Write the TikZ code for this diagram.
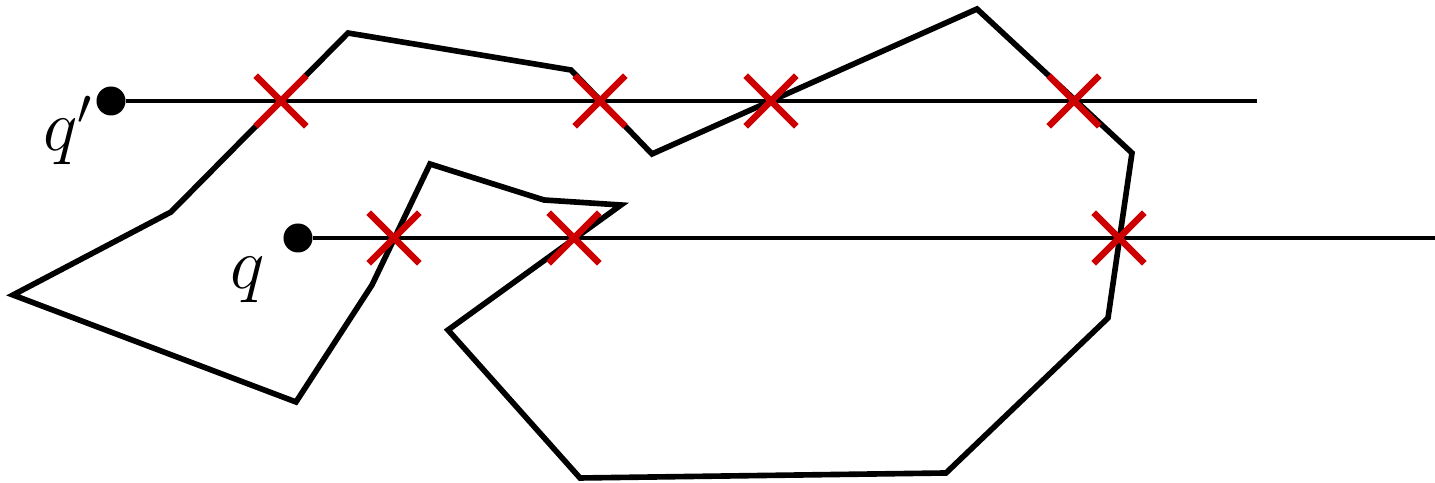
\documentclass[tikz,border=0pt]{standalone}
\usepackage{amsmath}
\usetikzlibrary{shapes.misc, positioning}
\definecolor{hitred}{HTML}{CC0000}
\tikzset{
  boundary/.style={line width=1.6pt, black},
  ray/.style={line width=1.4pt, black},
  query/.style={circle, fill=black, inner sep=0pt, minimum size=0.29cm},
  hit/.style={cross out, draw=hitred, line width=1.9pt, inner sep=0pt, minimum size=0.44cm},
  qlabel/.style={inner sep=0pt, anchor=base west, font=\fontsize{20.5}{24}\selectfont},
}

\begin{document}
\begin{tikzpicture}[x=0.01cm, y=-0.01cm]
  \useasboundingbox (0,0) rectangle (1435,483);

  % the polygon
  \draw[boundary] (13,295) -- (171,212) -- (348,33) -- (571,70) -- (652,154)
    -- (977,9) -- (1132,153) -- (1108,318) -- (946,473) -- (580,478)
    -- (448,330) -- (621,205) -- (544,200) -- (430,164) -- (372,285)
    -- (296,402) -- cycle;

  % query points and rays
  \node[query] (qp) at (111,101) {};
  \node[query] (q) at (298,238) {};
  \coordinate (qpend) at (1257,101);
  \coordinate (qend) at (1435,238);
  \node[qlabel] (qplab) at (43,151) {$q'$};
  \node[qlabel] (qlab) at (230,289) {$q$};

  \draw[ray] (qp) -- (qpend);
  \draw[ray] (q) -- (qend);

  % crossings
  \node[hit] (hp1) at (281,101) {};
  \node[hit] (hp2) at (600,101) {};
  \node[hit] (hp3) at (771,101) {};
  \node[hit] (hp4) at (1074,101) {};
  \node[hit] (h1) at (394,238) {};
  \node[hit] (h2) at (574,238) {};
  \node[hit] (h3) at (1119,238) {};

\end{tikzpicture}
\end{document}
